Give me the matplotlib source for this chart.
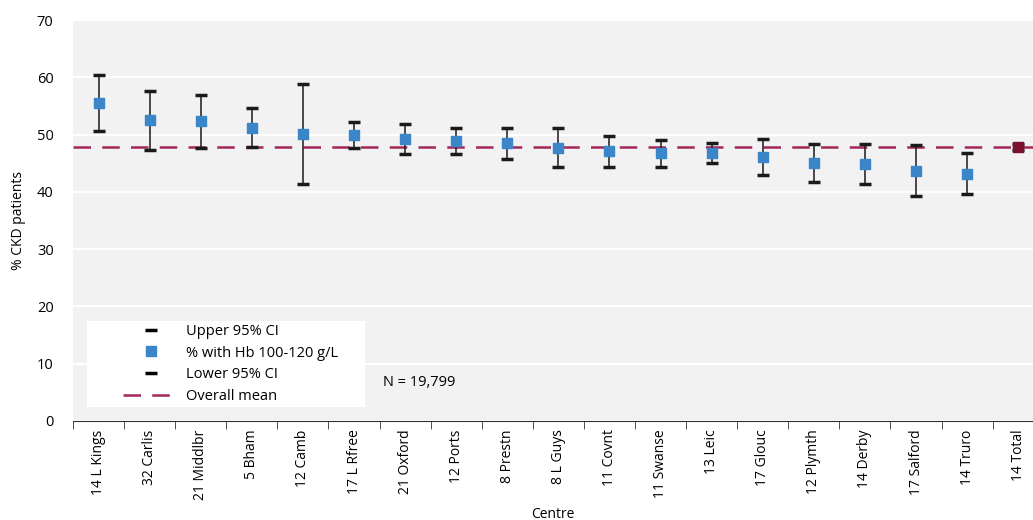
import matplotlib
matplotlib.use("Agg")
import matplotlib.pyplot as plt
from matplotlib.lines import Line2D
from matplotlib.patches import Rectangle

# datos
centros = ["14 L Kings", "32 Carlis", "21 Middlbr", "5 Bham", "12 Camb", "17 L Rfree",
           "21 Oxford", "12 Ports", "8 Prestn", "8 L Guys", "11 Covnt", "11 Swanse",
           "13 Leic", "17 Glouc", "12 Plymth", "14 Derby", "17 Salford", "14 Truro", "14 Total"]
porcentaje = [55.5, 52.5, 52.3, 51.2, 50.1, 49.9, 49.2, 48.9, 48.5, 47.7, 47.1, 46.7,
              46.7, 46.1, 45.0, 44.8, 43.6, 43.2, 47.9]
ic_superior = [60.4, 57.6, 56.9, 54.6, 58.8, 52.2, 51.8, 51.1, 51.1, 51.1, 49.8, 49.0,
               48.5, 49.3, 48.3, 48.3, 48.2, 46.7, 48.4]
ic_inferior = [50.6, 47.3, 47.6, 47.8, 41.3, 47.6, 46.6, 46.6, 45.8, 44.4, 44.4, 44.3,
               45.0, 42.9, 41.8, 41.4, 39.3, 39.6, 47.3]
media_global = 47.8
n_total = "N = 19,799"

plt.rcParams["font.family"] = ["Open Sans", "DejaVu Sans"]
fs = 10

fig = plt.figure(figsize=(10.33, 5.20), dpi=100)
ax = fig.add_axes([0.0707, 0.1904, 0.9293, 0.7711])
ax.set_facecolor("#f2f2f2")

x = list(range(len(centros)))
err_abajo = [p - lo for p, lo in zip(porcentaje, ic_inferior)]
err_arriba = [hi - p for p, hi in zip(porcentaje, ic_superior)]

ax.errorbar(x, porcentaje, yerr=[err_abajo, err_arriba], fmt="none",
            ecolor="#1a1a1a", elinewidth=1.1, capsize=4.5, capthick=2.5, zorder=3)

ax.axhline(media_global, color="#a3275a", lw=1.8, dashes=(7, 4.5), zorder=2)

ax.scatter(x[:-1], porcentaje[:-1], marker="s", s=42, color="#3a86c8", zorder=4)
ax.scatter(x[-1:], porcentaje[-1:], marker="s", s=42, color="#7a1030", zorder=4)

ax.set_xlim(-0.5, 18.29)
ax.set_ylim(0, 70)
ax.set_yticks(range(0, 71, 10))
ax.yaxis.grid(True, color="white", lw=1.6)
ax.set_axisbelow(True)
ax.tick_params(axis="y", length=0, labelsize=fs + 0.5, pad=14)

ax.set_xticks(x)
ax.set_xticklabels(centros, rotation=90, fontsize=fs)
ax.set_xticks([i - 0.5 for i in range(len(centros))], minor=True)
ax.tick_params(axis="x", which="major", length=0, pad=6)
ax.tick_params(axis="x", which="minor", length=6, color="#333333", direction="out")

for lado in ["top", "right", "left"]:
    ax.spines[lado].set_visible(False)
ax.spines["bottom"].set_color("#333333")

ax.set_ylabel("% CKD patients", fontsize=fs, labelpad=8)
ax.set_xlabel("Centre", fontsize=fs, labelpad=5)

ax.text(5.57, 6.8, n_total, fontsize=fs + 0.5, va="center", ha="left")

# caja blanca de la leyenda
ax.add_patch(Rectangle((0.0146, 0.035), 0.29, 0.214, transform=ax.transAxes,
                       facecolor="white", edgecolor="none", zorder=5))

manijas = [
    Line2D([], [], color="black", marker="_", ls="none", markersize=8, markeredgewidth=2.5),
    Line2D([], [], color="#3a86c8", marker="s", ls="none", markersize=6.5),
    Line2D([], [], color="black", marker="_", ls="none", markersize=8, markeredgewidth=2.5),
    Line2D([], [], color="#a3275a", lw=1.8, dashes=(7, 4.5)),
]
etiquetas = ["Upper 95% CI", "% with Hb 100-120 g/L", "Lower 95% CI", "Overall mean"]
leg = ax.legend(manijas, etiquetas, loc="upper left", bbox_to_anchor=(0.052, 0.242),
                fontsize=fs + 0.5, handlelength=3.9, handletextpad=0.4, labelspacing=0.45,
                borderpad=0, frameon=False, borderaxespad=0)
leg.set_zorder(6)

fig.savefig("out.png", dpi=100)
